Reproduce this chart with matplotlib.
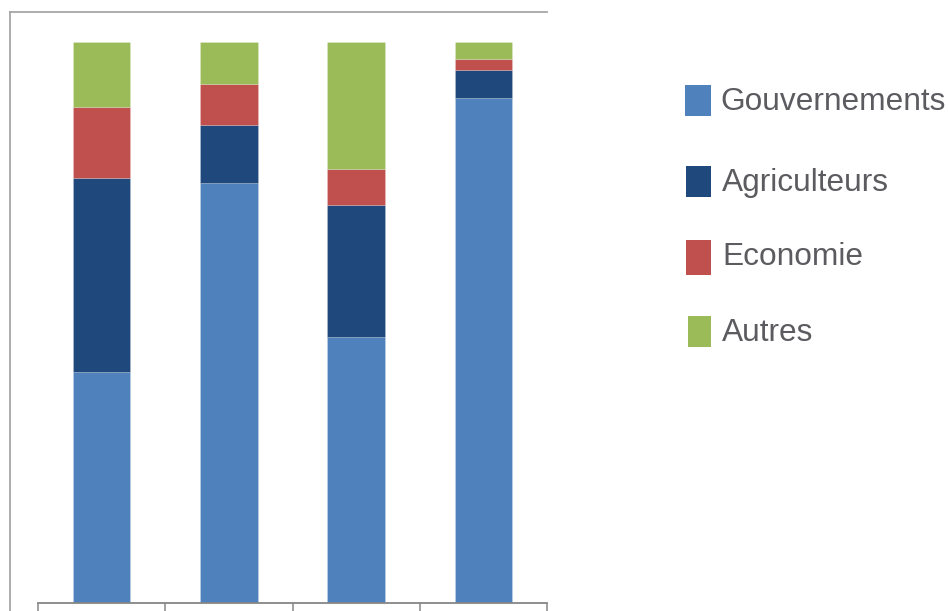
import matplotlib
matplotlib.use("Agg")
import matplotlib.pyplot as plt
from matplotlib.patches import Rectangle
from matplotlib.lines import Line2D
import numpy as np

plt.rcParams['font.family'] = ['Liberation Sans', 'DejaVu Sans']

categories = ["1", "2", "3", "4"]
series_names = ["Gouvernements", "Agriculteurs", "Economie", "Autres"]
gouvernements = [41.2, 74.8, 47.4, 90.0]
agriculteurs = [34.6, 10.4, 23.6, 5.0]
economie = [12.7, 7.4, 6.4, 2.0]
autres = [11.5, 7.4, 22.6, 3.0]
colors = ["#4F81BD", "#1F497D", "#C0504D", "#9BBB59"]

W, H = 949, 611
fig = plt.figure(figsize=(W / 100, H / 100), dpi=100)
fig.patch.set_facecolor("white")

def fx(px):
    return px / W

def fy(py):
    return 1 - py / H

ax = fig.add_axes([fx(38), fy(603), fx(547) - fx(38), fy(42) - fy(603)])
x = np.arange(len(categories))
bottom = np.zeros(len(categories))
for vals, col in zip([gouvernements, agriculteurs, economie, autres], colors):
    ax.bar(x, vals, width=0.45, bottom=bottom, color=col,
           edgecolor=(1, 1, 1, 0.2), linewidth=0.6)
    bottom += np.array(vals)

ax.set_xlim(-0.5, len(categories) - 0.5)
ax.set_ylim(0, 100)
for s in ["top", "left", "right"]:
    ax.spines[s].set_visible(False)
ax.spines["bottom"].set_color("#868686")
ax.spines["bottom"].set_linewidth(1.3)
ax.set_yticks([])
ax.set_xticks(np.arange(-0.5, len(categories)), minor=False)
ax.set_xticklabels([])
ax.tick_params(axis="x", direction="out", length=6, width=1.1, color="#868686")
ax.set_facecolor("none")

# outer chart border (left and top)
fig.add_artist(Line2D([fx(10), fx(10)], [fy(12), 0], color="#A6A6A6", lw=1.3, transform=fig.transFigure))
fig.add_artist(Line2D([fx(10), fx(547)], [fy(12), fy(12)], color="#A6A6A6", lw=1.3, transform=fig.transFigure))

# legend
rows = [(685, 85, 116, 720, 102), (686, 166, 197, 722, 183),
        (686, 240, 275, 722, 257), (688, 316, 347, 722, 333)]
for name, col, (mx, my0, my1, tx, ty) in zip(series_names, colors, rows):
    fig.add_artist(Rectangle((fx(mx), fy(my1)), fx(711) - fx(mx), fy(my0) - fy(my1),
                             facecolor=col, edgecolor="none", transform=fig.transFigure))
    fig.text(fx(tx), fy(ty), name, fontsize=22.8, color="#5B5B60", va="center", ha="left")

fig.savefig("out.png", dpi=100, facecolor="white")
